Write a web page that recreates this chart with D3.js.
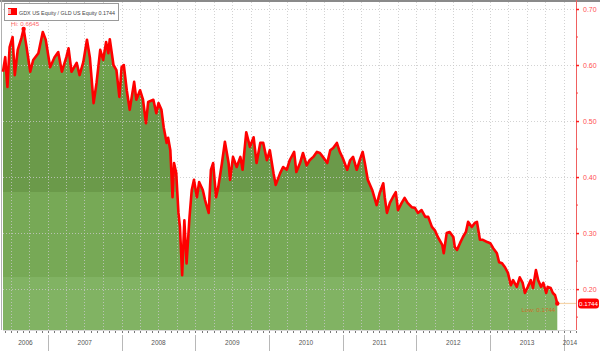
<!DOCTYPE html>
<html>
<head>
<meta charset="utf-8">
<script src="https://cdn.jsdelivr.net/npm/d3@7"></script>
<style>
  body { margin: 0; background: #fff; }
  svg { display: block; font-family: 'Liberation Sans', 'DejaVu Sans', sans-serif; }
</style>
</head>
<body>
<div id="chart"></div>
<script>
// GDX / GLD ratio (decimal year, ratio)
const years = [
  2006.39, 2006.42, 2006.45, 2006.48, 2006.52, 2006.55, 2006.59, 2006.64, 2006.67, 2006.71,
  2006.76, 2006.80, 2006.87, 2006.93, 2006.97, 2007.03, 2007.09, 2007.14, 2007.19, 2007.25,
  2007.28, 2007.32, 2007.39, 2007.43, 2007.48, 2007.53, 2007.57, 2007.62, 2007.66, 2007.71,
  2007.75, 2007.79, 2007.82, 2007.84, 2007.89, 2007.93, 2007.97, 2008.00, 2008.03, 2008.07,
  2008.11, 2008.17, 2008.20, 2008.25, 2008.29, 2008.33, 2008.36, 2008.43, 2008.47, 2008.50,
  2008.54, 2008.57, 2008.61, 2008.63, 2008.66, 2008.69, 2008.71, 2008.74, 2008.77, 2008.79,
  2008.82, 2008.85, 2008.88, 2008.92, 2008.95, 2008.98, 2009.02, 2009.05, 2009.10, 2009.13,
  2009.18, 2009.21, 2009.24, 2009.28, 2009.31, 2009.36, 2009.40, 2009.45, 2009.47, 2009.51,
  2009.56, 2009.61, 2009.64, 2009.69, 2009.74, 2009.79, 2009.83, 2009.88, 2009.92, 2009.97,
  2010.01, 2010.06, 2010.09, 2010.15, 2010.19, 2010.24, 2010.28, 2010.34, 2010.37, 2010.42,
  2010.46, 2010.51, 2010.55, 2010.60, 2010.65, 2010.69, 2010.73, 2010.79, 2010.83, 2010.87,
  2010.92, 2010.96, 2011.00, 2011.06, 2011.10, 2011.14, 2011.19, 2011.23, 2011.27, 2011.30,
  2011.34, 2011.40, 2011.44, 2011.46, 2011.50, 2011.55, 2011.57, 2011.60, 2011.64, 2011.68,
  2011.72, 2011.75, 2011.80, 2011.84, 2011.88, 2011.94, 2011.98, 2012.02, 2012.07, 2012.12,
  2012.16, 2012.21, 2012.25, 2012.29, 2012.35, 2012.37, 2012.41, 2012.45, 2012.50, 2012.52,
  2012.55, 2012.59, 2012.63, 2012.67, 2012.70, 2012.75, 2012.79, 2012.82, 2012.86, 2012.90,
  2012.96, 2013.00, 2013.04, 2013.09, 2013.12, 2013.16, 2013.20, 2013.24, 2013.28, 2013.31,
  2013.36, 2013.40, 2013.44, 2013.47, 2013.51, 2013.55, 2013.58, 2013.62, 2013.65, 2013.69,
  2013.72, 2013.76, 2013.78, 2013.82, 2013.85, 2013.88, 2013.91
]
const ratio = [
  0.588, 0.614, 0.561, 0.632, 0.650, 0.582, 0.627, 0.648, 0.6645, 0.632,
  0.588, 0.609, 0.621, 0.659, 0.645, 0.596, 0.614, 0.623, 0.588, 0.614,
  0.630, 0.588, 0.604, 0.582, 0.605, 0.645, 0.613, 0.532, 0.568, 0.627,
  0.609, 0.641, 0.621, 0.646, 0.600, 0.591, 0.543, 0.596, 0.600, 0.555,
  0.520, 0.570, 0.538, 0.555, 0.538, 0.496, 0.534, 0.538, 0.514, 0.532,
  0.520, 0.489, 0.461, 0.470, 0.448, 0.364, 0.425, 0.407, 0.336, 0.311,
  0.225, 0.323, 0.246, 0.329, 0.377, 0.395, 0.364, 0.391, 0.377, 0.359,
  0.336, 0.413, 0.425, 0.364, 0.382, 0.425, 0.463, 0.425, 0.395, 0.436,
  0.418, 0.436, 0.413, 0.480, 0.454, 0.471, 0.425, 0.461, 0.461, 0.430,
  0.448, 0.407, 0.386, 0.407, 0.418, 0.413, 0.430, 0.445, 0.409, 0.425,
  0.443, 0.421, 0.430, 0.436, 0.445, 0.443, 0.436, 0.425, 0.448, 0.452,
  0.461, 0.445, 0.434, 0.413, 0.430, 0.436, 0.413, 0.430, 0.445, 0.425,
  0.395, 0.377, 0.359, 0.350, 0.371, 0.389, 0.364, 0.336, 0.354, 0.364,
  0.373, 0.341, 0.354, 0.363, 0.354, 0.346, 0.345, 0.336, 0.341, 0.329,
  0.329, 0.311, 0.305, 0.293, 0.279, 0.264, 0.300, 0.302, 0.293, 0.275,
  0.270, 0.282, 0.293, 0.302, 0.320, 0.311, 0.318, 0.320, 0.288, 0.288,
  0.284, 0.282, 0.273, 0.264, 0.248, 0.246, 0.239, 0.229, 0.207, 0.216,
  0.204, 0.221, 0.211, 0.193, 0.204, 0.216, 0.202, 0.234, 0.216, 0.204,
  0.211, 0.193, 0.204, 0.202, 0.193, 0.189, 0.1744
]
const yTicks = [0.20, 0.30, 0.40, 0.50, 0.60, 0.70]
const yMinorTicks = [0.15, 0.25, 0.35, 0.45, 0.55, 0.65]
const yearLabels = ['2006', '2007', '2008', '2009', '2010', '2011', '2012', '2013', '2014']
const legendText = 'GDX US Equity / GLD US Equity  0.1744'
const hiValue = 0.6645
const lastValue = 0.1744

const toDate = t => {
  const y = Math.floor(t)
  const start = new Date(y, 0, 1)
  const end = new Date(y + 1, 0, 1)
  return new Date(+start + (t - y) * (end - start))
}
const data = years.map((t, i) => ({ date: toDate(t), value: ratio[i] }))

const W = 600
const H = 351
const plot = { left: 3, right: 576, top: 2, bottom: 330 }

const svg = d3.select('#chart')
  .append('svg')
  .attr('width', W)
  .attr('height', H)

const x = d3.scaleTime()
  .domain([toDate(2006.39), toDate(2014.164)])
  .range([plot.left, plot.right])

const y = d3.scaleLinear()
  .domain([0.127, 0.7125])
  .range([plot.bottom, plot.top])

// banded green fill
const defs = svg.append('defs')
const grad = defs.append('linearGradient')
  .attr('id', 'bands')
  .attr('gradientUnits', 'userSpaceOnUse')
  .attr('x1', 0).attr('x2', 0)
  .attr('y1', 0).attr('y2', plot.bottom)
const bands = [
  [0, '#6fa24c'], [80 / 330, '#6fa24c'], [80 / 330, '#6b9a4a'], [192 / 330, '#6b9a4a'],
  [192 / 330, '#77a956'], [277 / 330, '#77a956'], [277 / 330, '#81b363'], [1, '#81b363']
]
bands.forEach(([o, c]) => grad.append('stop').attr('offset', o).attr('stop-color', c))

// frame
svg.append('rect').attr('x', 0).attr('y', 0).attr('width', W).attr('height', 2).attr('fill', '#8a8a8a')
svg.append('line')
  .attr('x1', 1.5).attr('x2', 1.5).attr('y1', 0).attr('y2', plot.bottom)
  .attr('stroke', '#b0b0b0')

const area = d3.area()
  .x(d => x(d.date))
  .y0(plot.bottom)
  .y1(d => y(d.value))

svg.append('path')
  .datum(data)
  .attr('fill', 'url(#bands)')
  .attr('d', area)

// dotted grid
const grid = svg.append('g')
const quarters = d3.timeMonth.every(3).range(x.domain()[0], x.domain()[1])
grid.selectAll('.vg')
  .data(quarters)
  .join('line')
  .attr('x1', d => Math.round(x(d)) + 0.5)
  .attr('x2', d => Math.round(x(d)) + 0.5)
  .attr('y1', plot.top)
  .attr('y2', plot.bottom)
  .attr('stroke', '#c8c8c8')
  .attr('stroke-opacity', 0.8)
  .attr('stroke-dasharray', '1,2')
grid.selectAll('.hg')
  .data(yTicks)
  .join('line')
  .attr('x1', plot.left)
  .attr('x2', plot.right)
  .attr('y1', d => Math.round(y(d)) + 0.5)
  .attr('y2', d => Math.round(y(d)) + 0.5)
  .attr('stroke', '#c8c8c8')
  .attr('stroke-opacity', 0.8)
  .attr('stroke-dasharray', '1,2')

const line = d3.line()
  .x(d => x(d.date))
  .y(d => y(d.value))

svg.append('path')
  .datum(data)
  .attr('fill', 'none')
  .attr('stroke', '#ff0000')
  .attr('stroke-width', 2.6)
  .attr('stroke-linejoin', 'round')
  .attr('d', line)

// bottom axis: monthly ticks, year separators and labels
svg.append('line')
  .attr('x1', plot.left).attr('x2', plot.right)
  .attr('y1', plot.bottom + 0.5).attr('y2', plot.bottom + 0.5)
  .attr('stroke', '#d8d8d8')
const months = d3.timeMonth.range(x.domain()[0], x.domain()[1])
svg.append('g').selectAll('line')
  .data(months)
  .join('line')
  .attr('x1', d => Math.round(x(d)) + 0.5)
  .attr('x2', d => Math.round(x(d)) + 0.5)
  .attr('y1', plot.bottom + 1)
  .attr('y2', plot.bottom + 3)
  .attr('stroke', '#555')
  .attr('stroke-width', 0.8)

const yearStarts = yearLabels.map(s => new Date(+s, 0, 1))
svg.append('g').selectAll('line')
  .data(yearStarts.slice(1))
  .join('line')
  .attr('x1', d => Math.round(x(d)) + 0.5)
  .attr('x2', d => Math.round(x(d)) + 0.5)
  .attr('y1', plot.bottom + 5)
  .attr('y2', H)
  .attr('stroke', '#b8b8b8')

svg.append('g').selectAll('text')
  .data(yearLabels)
  .join('text')
  .attr('x', (d, i) => {
    const a = Math.max(x(yearStarts[i]), plot.left)
    const b = Math.min(x(new Date(+d + 1, 0, 1)), plot.right)
    return (a + b) / 2
  })
  .attr('y', 345)
  .attr('text-anchor', 'middle')
  .attr('font-size', 6.5)
  .attr('fill', '#555')
  .text(d => d)

// right axis
const yAxis = svg.append('g')
  .attr('transform', `translate(${plot.right},0)`)
  .call(d3.axisRight(y).tickValues(yTicks).tickFormat(d3.format('.2f')).tickSize(3).tickPadding(4))
yAxis.select('.domain').attr('stroke', '#f06060').attr('d', `M0.5,0V${plot.bottom}`)
yAxis.selectAll('.tick line').attr('stroke', '#ff2020').attr('stroke-width', 1.5)
yAxis.selectAll('.tick text')
  .attr('fill', '#ff5050')
  .attr('font-size', 7)
  .attr('font-family', "'Liberation Sans', sans-serif")
svg.append('g').selectAll('line')
  .data(yMinorTicks)
  .join('line')
  .attr('x1', plot.right)
  .attr('x2', plot.right + 2)
  .attr('y1', d => y(d))
  .attr('y2', d => y(d))
  .attr('stroke', '#ff4040')

// last value marker and tag
const last = data[data.length - 1]
svg.append('line')
  .attr('x1', x(last.date)).attr('x2', plot.right)
  .attr('y1', y(lastValue)).attr('y2', y(lastValue))
  .attr('stroke', '#f6d4a8')
  .attr('stroke-width', 1.2)
svg.append('circle')
  .attr('cx', x(last.date)).attr('cy', y(lastValue)).attr('r', 2.2)
  .attr('fill', '#ff0000')
svg.append('rect')
  .attr('x', plot.right + 2).attr('y', y(lastValue) - 5)
  .attr('width', 21).attr('height', 10).attr('rx', 3)
  .attr('fill', '#ff0000')
svg.append('text')
  .attr('x', plot.right + 12.5).attr('y', y(lastValue) + 2.3)
  .attr('text-anchor', 'middle')
  .attr('font-size', 6.2)
  .attr('fill', '#fff')
  .text(lastValue.toFixed(4))

svg.append('text')
  .attr('x', x(last.date) - 2).attr('y', y(lastValue) + 8.5)
  .attr('text-anchor', 'end')
  .attr('font-size', 6.2)
  .attr('fill', '#c8702a')
  .text(`Low: ${lastValue.toFixed(4)}`)

// high marker
const hi = data.find(d => d.value === hiValue)
svg.append('circle')
  .attr('cx', x(hi.date)).attr('cy', y(hiValue)).attr('r', 2.2)
  .attr('fill', '#ff0000')
svg.append('text')
  .attr('x', 11).attr('y', 26)
  .attr('font-size', 6.2)
  .attr('fill', '#ff6a6a')
  .text(`Hi: ${hiValue.toFixed(4)}`)

// legend box
const legend = svg.append('g')
legend.append('rect')
  .attr('x', 4.5).attr('y', 3.5).attr('width', 114).attr('height', 17)
  .attr('fill', '#fff')
  .attr('stroke', '#9a9a9a')
legend.append('rect')
  .attr('x', 8).attr('y', 8).attr('width', 9).attr('height', 7)
  .attr('fill', '#ff0000')
legend.append('rect')
  .attr('x', 8).attr('y', 9).attr('width', 3).attr('height', 5)
  .attr('fill', '#f4b0b0')
legend.append('text')
  .attr('x', 19).attr('y', 14.5)
  .attr('font-size', 6)
  .attr('fill', '#444')
  .attr('textLength', 96)
  .attr('lengthAdjust', 'spacingAndGlyphs')
  .text(legendText)
</script>
</body>
</html>
